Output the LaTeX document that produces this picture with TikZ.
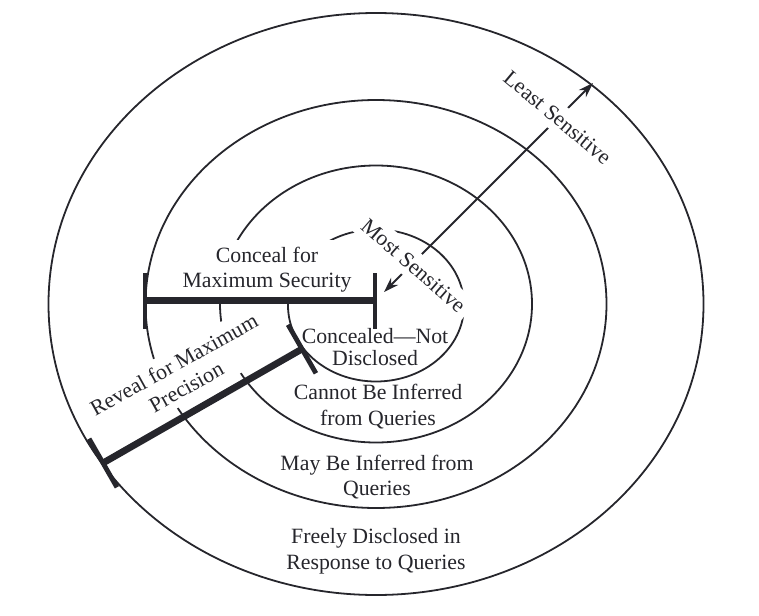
\documentclass[tikz,border=0pt]{standalone}
\usepackage{fontspec}
\setmainfont{Liberation Serif}
\usetikzlibrary{arrows.meta,calc}
\definecolor{ink}{RGB}{38,38,44}
\begin{document}
\begin{tikzpicture}[x=0.5pt,y=-0.5pt,>={Stealth[length=7.5pt,width=5pt,inset=2.5pt]},
  ring/.style={line width=0.9pt, draw=ink},
  lbl/.style={align=center, text=ink, font=\fontsize{10.9}{12.75}\selectfont},
  cover/.style={lbl, fill=white},
  bar/.style={line width=3.4pt, draw=ink},
  tick/.style={line width=2.4pt, draw=ink}]

  \useasboundingbox (0,0) rectangle (759,615);

  \begin{scope}   % soustredne elipsy

    \def\Cx{376};
    \def\Cy{304};
    \coordinate (C) at (\Cx,\Cy);
    \coordinate (Ci) at (\Cx,\Cy+1.5);

    \draw[ring] (C) ellipse [x radius=327.5, y radius=291];
    \draw[ring] (C) ellipse [x radius=230.5, y radius=204];
    \draw[ring] (C) ellipse [x radius=156, y radius=138.5];
    \draw[ring] (Ci) ellipse [x radius=88, y radius=76];

  \end{scope}

  \begin{scope}   % sipka most -- least

    \coordinate (aIn) at (384,292);
    \coordinate (aOut) at (593,83);
    \draw[ring, <->] (aIn)--(aOut);

    \node[cover, rotate=-41] (most) at (413.5,265.5) {Most Sensitive};
    \node[cover, rotate=-40] (least) at (557.5,117.5) {Least Sensitive};

  \end{scope}

  \begin{scope}   % popisky pasem

    \node[cover] (conceal) at (267,269.5) {Conceal for\\Maximum Security};
    \node[lbl, font=\fontsize{10.9}{10.75}\selectfont] (concealed) at (375,347)
         {Concealed—Not\\Disclosed};
    \node[lbl] (cannot) at (378,406.5) {Cannot Be Inferred\\from Queries};
    \node[lbl] (may) at (377,477) {May Be Inferred from\\Queries};
    \node[lbl] (freely) at (376,551) {Freely Disclosed in\\Response to Queries};
    \node[cover, rotate=29] (reveal) at (180,375.6)
         {Reveal for Maximum\\Precision};

  \end{scope}

  \begin{scope}   % tlusta meritka

    \coordinate (hL) at (145,300.5);
    \coordinate (hR) at (375,300.5);
    \draw[bar] (hL)--(hR);
    \draw[tick] ($(hL)!14pt!90:(hR)$)--($(hL)!14pt!-90:(hR)$);
    \draw[tick] ($(hR)!14pt!90:(hL)$)--($(hR)!14pt!-90:(hL)$);

    \coordinate (dL) at (103,463);
    \coordinate (dR) at (302,349);
    \draw[bar] (dL)--(dR);
    \draw[tick] ($(dL)!14pt!90:(dR)$)--($(dL)!14pt!-90:(dR)$);
    \draw[tick] ($(dR)!14pt!90:(dL)$)--($(dR)!14pt!-90:(dL)$);

  \end{scope}

\end{tikzpicture}
\end{document}
